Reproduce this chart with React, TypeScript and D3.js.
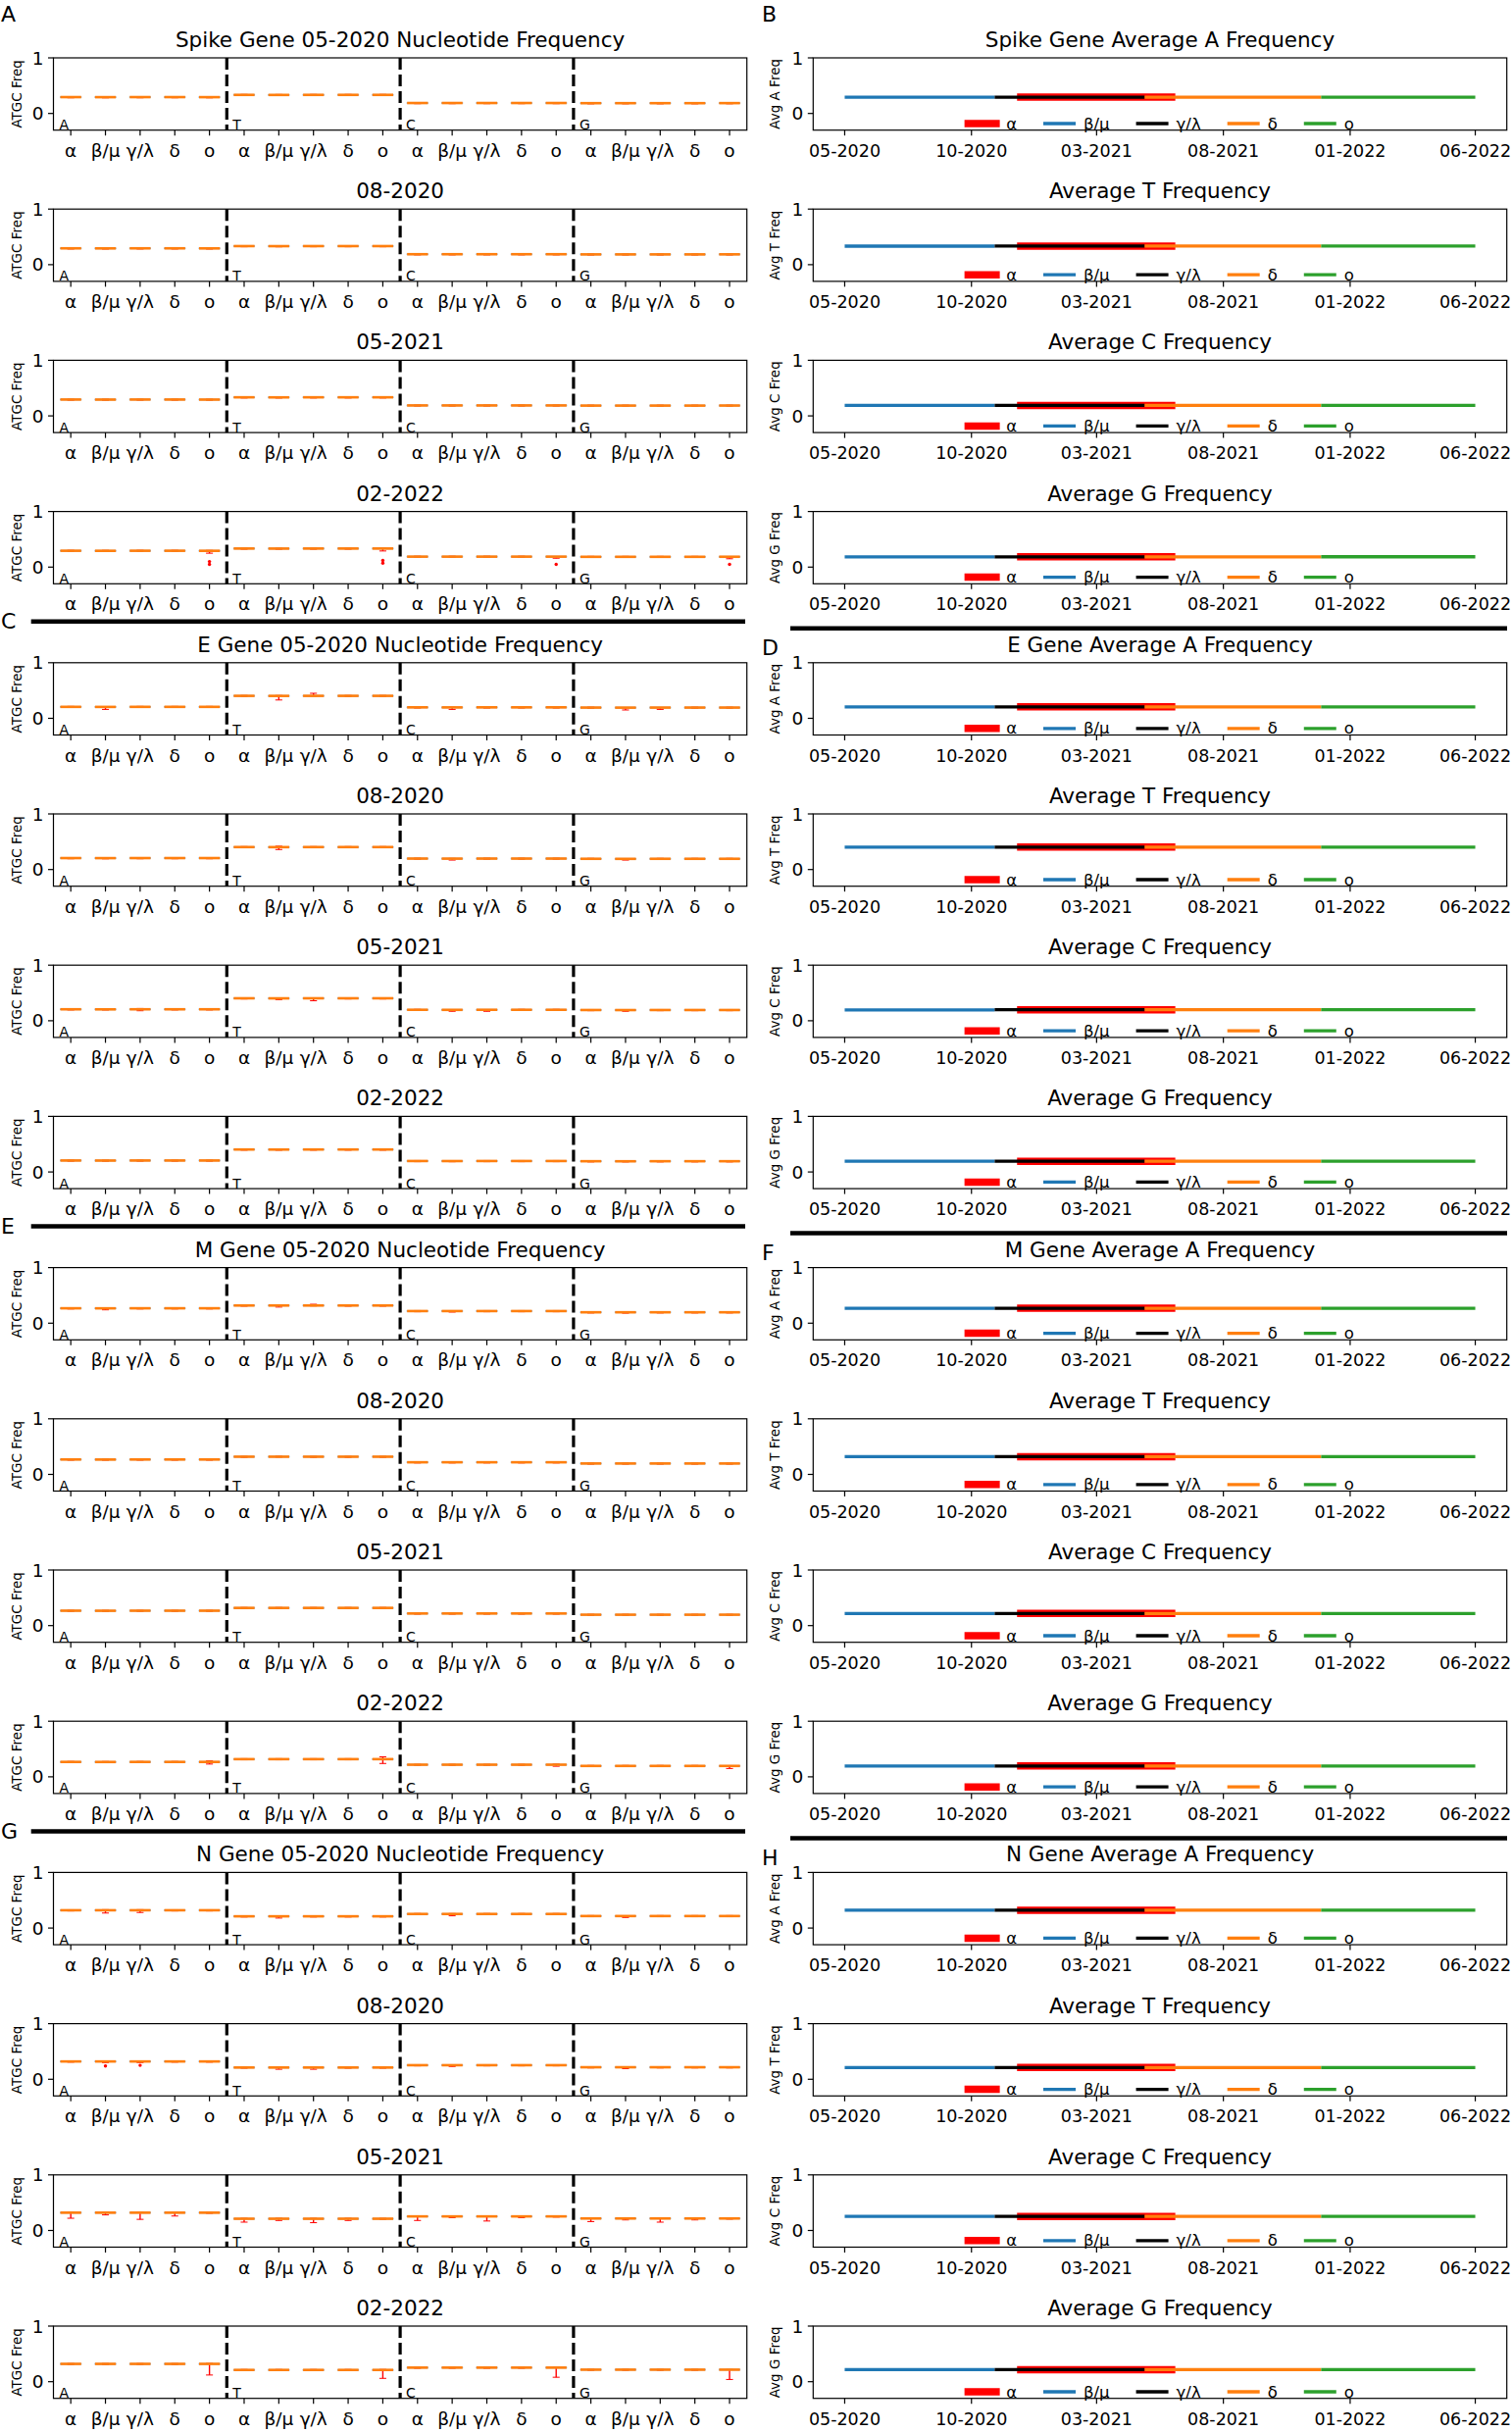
import React from "react";
import * as d3 from "d3";

// ---------------- data ----------------
const genes = ["Spike", "E", "M", "N"];
const sampleDates = ["05-2020", "08-2020", "05-2021", "02-2022"];
const nucleotides = ["A", "T", "C", "G"];
const variants = ["α", "β/μ", "γ/λ", "δ", "ο"];
const variantColors = ["#ff0000", "#1f77b4", "#000000", "#ff7f0e", "#2ca02c"];
const variantStart = ["2020-11-25", "2020-05-01", "2020-10-29", "2021-04-28", "2021-11-27"];
const variantEnd = ["2021-06-04", "2020-10-29", "2021-04-28", "2021-11-27", "2022-06-01"];
const dateTicks = ["2020-05-01", "2020-10-01", "2021-03-01", "2021-08-01", "2022-01-01", "2022-06-01"];
const yTicks = [0, 1];
const panelLetters = ["A", "B", "C", "D", "E", "F", "G", "H"];

// median nucleotide frequency, rows = A,T,C,G ; columns = variants
const spikeFreq = [
  [0.294, 0.293, 0.294, 0.294, 0.293],
  [0.334, 0.333, 0.334, 0.334, 0.334],
  [0.188, 0.188, 0.188, 0.188, 0.188],
  [0.185, 0.185, 0.185, 0.185, 0.186],
];
const eFreq = [
  [0.206, 0.205, 0.206, 0.206, 0.206],
  [0.404, 0.403, 0.404, 0.404, 0.404],
  [0.197, 0.196, 0.197, 0.197, 0.197],
  [0.193, 0.192, 0.193, 0.193, 0.193],
];
const mFreq = [
  [0.268, 0.267, 0.268, 0.268, 0.268],
  [0.318, 0.318, 0.318, 0.318, 0.318],
  [0.218, 0.218, 0.218, 0.218, 0.218],
  [0.196, 0.196, 0.196, 0.196, 0.196],
];
const nFreq = [
  [0.320, 0.320, 0.320, 0.320, 0.320],
  [0.211, 0.211, 0.211, 0.211, 0.211],
  [0.253, 0.253, 0.253, 0.253, 0.253],
  [0.216, 0.216, 0.216, 0.216, 0.216],
];
const geneFreqs = [spikeFreq, eFreq, mFreq, nFreq];

// notable spreads: [gene, date, nucleotide, variant, whiskerLow, whiskerHigh, outliers]
const spreadNotes: [number, number, number, number, number, number, number[]][] = [
  [0, 3, 0, 4, 0.25, 0.30, [0.10, 0.05]],
  [0, 3, 1, 4, 0.29, 0.34, [0.12, 0.07]],
  [0, 3, 2, 4, 0.16, 0.19, [0.05]],
  [0, 3, 3, 4, 0.15, 0.19, [0.05]],
  [1, 0, 0, 1, 0.16, 0.21, []],
  [1, 0, 1, 1, 0.33, 0.41, []],
  [1, 0, 1, 2, 0.40, 0.45, []],
  [1, 0, 2, 1, 0.16, 0.20, []],
  [1, 0, 3, 1, 0.15, 0.19, []],
  [1, 0, 3, 2, 0.16, 0.19, []],
  [1, 1, 1, 1, 0.36, 0.42, []],
  [1, 1, 2, 1, 0.17, 0.20, []],
  [1, 1, 3, 1, 0.17, 0.19, []],
  [1, 2, 0, 2, 0.18, 0.22, []],
  [1, 2, 1, 1, 0.38, 0.41, []],
  [1, 2, 1, 2, 0.36, 0.41, []],
  [1, 2, 2, 1, 0.17, 0.20, []],
  [1, 2, 2, 2, 0.17, 0.20, []],
  [1, 2, 3, 1, 0.17, 0.19, []],
  [2, 0, 0, 1, 0.24, 0.27, []],
  [2, 0, 1, 1, 0.29, 0.32, []],
  [2, 0, 1, 2, 0.31, 0.34, []],
  [2, 0, 2, 1, 0.20, 0.22, []],
  [2, 0, 3, 1, 0.18, 0.20, []],
  [2, 1, 1, 1, 0.31, 0.33, []],
  [2, 3, 0, 4, 0.23, 0.29, []],
  [2, 3, 1, 4, 0.24, 0.36, []],
  [2, 3, 2, 4, 0.19, 0.23, []],
  [2, 3, 3, 4, 0.15, 0.20, []],
  [3, 0, 0, 1, 0.27, 0.33, []],
  [3, 0, 0, 2, 0.28, 0.33, []],
  [3, 0, 1, 1, 0.18, 0.22, []],
  [3, 0, 2, 1, 0.22, 0.26, []],
  [3, 0, 3, 1, 0.19, 0.22, []],
  [3, 1, 0, 1, 0.30, 0.33, [0.24]],
  [3, 1, 0, 2, 0.30, 0.33, [0.25]],
  [3, 1, 1, 1, 0.18, 0.22, []],
  [3, 1, 1, 2, 0.18, 0.22, []],
  [3, 1, 2, 1, 0.23, 0.26, []],
  [3, 1, 3, 1, 0.19, 0.22, []],
  [3, 2, 0, 0, 0.22, 0.33, []],
  [3, 2, 0, 1, 0.28, 0.33, []],
  [3, 2, 0, 2, 0.20, 0.33, []],
  [3, 2, 0, 3, 0.26, 0.33, []],
  [3, 2, 1, 0, 0.15, 0.22, []],
  [3, 2, 1, 1, 0.18, 0.22, []],
  [3, 2, 1, 2, 0.14, 0.22, []],
  [3, 2, 1, 3, 0.18, 0.22, []],
  [3, 2, 2, 0, 0.18, 0.26, []],
  [3, 2, 2, 1, 0.23, 0.26, []],
  [3, 2, 2, 2, 0.17, 0.26, []],
  [3, 2, 2, 3, 0.23, 0.26, []],
  [3, 2, 3, 0, 0.16, 0.22, []],
  [3, 2, 3, 1, 0.19, 0.22, []],
  [3, 2, 3, 2, 0.15, 0.22, []],
  [3, 2, 3, 3, 0.19, 0.22, []],
  [3, 3, 0, 4, 0.12, 0.33, []],
  [3, 3, 1, 4, 0.06, 0.22, []],
  [3, 3, 2, 4, 0.08, 0.26, []],
  [3, 3, 3, 4, 0.04, 0.22, []],
];

// ---------------- layout ----------------
const W = 1542;
const H = 2480;
const FONT = '"DejaVu Sans", sans-serif';
const TOP0 = 59;
const PITCH = 154.2;
const AX_H = 73.7;
const L0 = 54.5, L1 = 761.7;
const R0 = 829.3, R1 = 1536.7;

let _ctx: CanvasRenderingContext2D | null = null;
function measure(text: string, size: number) {
  if (!_ctx) _ctx = document.createElement("canvas").getContext("2d");
  if (!_ctx) return text.length * size * 0.6;
  _ctx.font = `${size}px "DejaVu Sans"`;
  return _ctx.measureText(text).width;
}

const parse = d3.timeParse("%Y-%m-%d");
const fmt = d3.timeFormat("%m-%Y");

function LeftPanel({ row }: { row: number }) {
  const g = Math.floor(row / 4);
  const d = row % 4;
  const top = TOP0 + row * PITCH;
  const bottom = top + AX_H;
  const x = d3.scaleLinear().domain([0.5, 20.5]).range([L0, L1]);
  const y = d3.scaleLinear().domain([-0.3, 1]).range([bottom, top]);
  const freqs = geneFreqs[g];
  const title = d === 0 ? `${genes[g]} Gene ${sampleDates[d]} Nucleotide Frequency` : sampleDates[d];
  const boxes: any[] = [];
  nucleotides.forEach((_, ni) => {
    variants.forEach((_, vi) => {
      const med = freqs[ni][vi];
      const note = spreadNotes.find((s) => s[0] === g && s[1] === d && s[2] === ni && s[3] === vi);
      const lo = note ? note[4] : med - 0.012;
      const hi = note ? note[5] : med + 0.008;
      const outs = note ? note[6] : [];
      boxes.push({ pos: ni * 5 + vi + 1, med, lo, hi, outs, q1: med - 0.006, q3: med + 0.006 });
    });
  });
  const bw = 0.6;
  return (
    <g>
      <text x={(L0 + L1) / 2} y={top - 11} textAnchor="middle" fontSize={21.5} fontFamily={FONT}>{title}</text>
      <text transform={`translate(${17},${top + AX_H / 2}) rotate(-90)`} textAnchor="middle" dominantBaseline="central" fontSize={13.5} fontFamily={FONT}>ATGC Freq</text>
      {yTicks.map((t) => (
        <g key={t}>
          <line x1={L0 - 5.5} x2={L0} y1={y(t)} y2={y(t)} stroke="#000" strokeWidth={1.2} />
          <text x={L0 - 10} y={y(t)} textAnchor="end" dominantBaseline="central" fontSize={18.5} fontFamily={FONT}>{t}</text>
        </g>
      ))}
      {boxes.map((b, i) => (
        <g key={i}>
          <line x1={x(b.pos)} x2={x(b.pos)} y1={bottom} y2={bottom + 5.5} stroke="#000" strokeWidth={1.2} />
          <text x={x(b.pos)} y={bottom + 27} textAnchor="middle" fontSize={18.5} fontFamily={FONT}>{variants[i % 5]}</text>
          <line x1={x(b.pos)} x2={x(b.pos)} y1={y(b.lo)} y2={y(b.hi)} stroke="#ff0000" strokeWidth={1.4} />
          <line x1={x(b.pos - bw / 6)} x2={x(b.pos + bw / 6)} y1={y(b.lo)} y2={y(b.lo)} stroke="#ff0000" strokeWidth={1} />
          <line x1={x(b.pos - bw / 6)} x2={x(b.pos + bw / 6)} y1={y(b.hi)} y2={y(b.hi)} stroke="#ff0000" strokeWidth={1} />
          <rect x={x(b.pos - bw / 2)} width={x(bw) - x(0)} y={y(b.q3)} height={y(b.q1) - y(b.q3)} fill="none" stroke="#9bb0c8" strokeWidth={1} />
          <line x1={x(b.pos - bw / 2)} x2={x(b.pos + bw / 2)} y1={y(b.med)} y2={y(b.med)} stroke="#ff7f0e" strokeWidth={2.6} />
          {b.outs.map((o: number, j: number) => (
            <circle key={j} cx={x(b.pos)} cy={y(o)} r={1.7} fill="#ff0000" />
          ))}
        </g>
      ))}
      {[5.5, 10.5, 15.5].map((v) => (
        <line key={v} x1={x(v)} x2={x(v)} y1={top} y2={bottom} stroke="#000" strokeWidth={3.2} strokeDasharray="12,5" />
      ))}
      {nucleotides.map((n, ni) => (
        <text key={n} x={x(ni * 5 + 0.5) + 6} y={bottom - 0.5} fontSize={14} fontFamily={FONT}>{n}</text>
      ))}
      <rect x={L0} y={top} width={L1 - L0} height={AX_H} fill="none" stroke="#000" strokeWidth={1.2} />
    </g>
  );
}

function RightPanel({ row }: { row: number }) {
  const g = Math.floor(row / 4);
  const d = row % 4;
  const top = TOP0 + row * PITCH;
  const bottom = top + AX_H;
  const allDates = [...variantStart, ...variantEnd].map((s) => parse(s)!.getTime());
  const dMin = d3.min(allDates)!;
  const dMax = d3.max(allDates)!;
  const pad = (dMax - dMin) * 0.05;
  const x = d3.scaleTime().domain([new Date(dMin - pad), new Date(dMax + pad)]).range([R0, R1]);
  const y = d3.scaleLinear().domain([-0.3, 1]).range([bottom, top]);
  const nuc = nucleotides[d];
  const title = d === 0 ? `${genes[g]} Gene Average ${nuc} Frequency` : `Average ${nuc} Frequency`;
  const vals = geneFreqs[g][d];
  const line = d3.line<[Date, number]>().x((p) => x(p[0])).y((p) => y(p[1]));
  // legend layout
  const fs = 16.5;
  const handle = 33;
  const items = variants.map((v) => ({ v, w: handle + 8 + measure(v, fs) }));
  const totalW = d3.sum(items, (it) => it.w) + 27 * (items.length - 1);
  let cursor = (R0 + R1) / 2 - totalW / 2;
  const legendY = bottom - 6.7;
  const legendItems = items.map((it, i) => {
    const xs = cursor;
    cursor += it.w + 27;
    return { ...it, xs, i };
  });
  return (
    <g>
      <text x={(R0 + R1) / 2} y={top - 11} textAnchor="middle" fontSize={21.5} fontFamily={FONT}>{title}</text>
      <text transform={`translate(${790},${top + AX_H / 2}) rotate(-90)`} textAnchor="middle" dominantBaseline="central" fontSize={13.5} fontFamily={FONT}>{`Avg ${nuc} Freq`}</text>
      {yTicks.map((t) => (
        <g key={t}>
          <line x1={R0 - 5.5} x2={R0} y1={y(t)} y2={y(t)} stroke="#000" strokeWidth={1.2} />
          <text x={R0 - 10} y={y(t)} textAnchor="end" dominantBaseline="central" fontSize={18.5} fontFamily={FONT}>{t}</text>
        </g>
      ))}
      {dateTicks.map((t) => {
        const dt = parse(t)!;
        return (
          <g key={t}>
            <line x1={x(dt)} x2={x(dt)} y1={bottom} y2={bottom + 5.5} stroke="#000" strokeWidth={1.2} />
            <text x={x(dt)} y={bottom + 27} textAnchor="middle" fontSize={17.5} fontFamily={FONT}>{fmt(dt)}</text>
          </g>
        );
      })}
      {variants.map((v, vi) => (
        <path
          key={v}
          d={line([[parse(variantStart[vi])!, vals[vi]], [parse(variantEnd[vi])!, vals[vi]]]) || ""}
          stroke={variantColors[vi]}
          strokeWidth={vi === 0 ? 7.5 : 3.3}
          fill="none"
        />
      ))}
      {legendItems.map((it) => (
        <g key={it.v}>
          <line
            x1={it.i === 0 ? it.xs - 1.5 : it.xs}
            x2={it.i === 0 ? it.xs + handle + 1.5 : it.xs + handle}
            y1={legendY}
            y2={legendY}
            stroke={variantColors[it.i]}
            strokeWidth={it.i === 0 ? 7.5 : 3.3}
          />
          <text x={it.xs + handle + 8} y={legendY} dominantBaseline="central" fontSize={fs} fontFamily={FONT}>{it.v}</text>
        </g>
      ))}
      <rect x={R0} y={top} width={R1 - R0} height={AX_H} fill="none" stroke="#000" strokeWidth={1.2} />
    </g>
  );
}

export default function App() {
  const rows = d3.range(16);
  const seps = [1, 2, 3].map((k) => TOP0 + 4 * k * PITCH - 42);
  return (
    <svg width={W} height={H} style={{ position: "absolute", left: 0, top: 0, background: "#fff" }} fontFamily={FONT}>
      <rect x={0} y={0} width={W} height={H} fill="#fff" />
      {rows.map((r) => (
        <g key={r}>
          <LeftPanel row={r} />
          <RightPanel row={r} />
        </g>
      ))}
      <text x={1} y={22} fontSize={22} fontFamily={FONT}>{panelLetters[0]}</text>
      <text x={777} y={22} fontSize={22} fontFamily={FONT}>{panelLetters[1]}</text>
      {seps.map((s, k) => (
        <g key={k}>
          <line x1={31.7} x2={760} y1={s} y2={s} stroke="#000" strokeWidth={4.5} />
          <line x1={806} x2={1537} y1={s + 7} y2={s + 7} stroke="#000" strokeWidth={4.5} />
          <text x={1} y={s} dominantBaseline="central" fontSize={22} fontFamily={FONT}>{panelLetters[2 + 2 * k]}</text>
          <text x={777} y={s + 27} dominantBaseline="central" fontSize={22} fontFamily={FONT}>{panelLetters[3 + 2 * k]}</text>
        </g>
      ))}
    </svg>
  );
}
